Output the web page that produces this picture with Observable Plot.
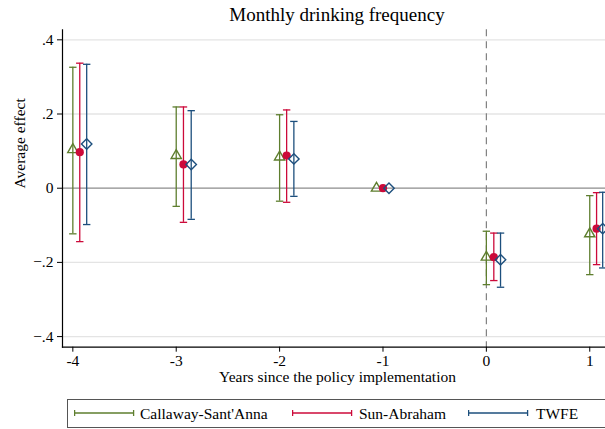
<!DOCTYPE html>
<html><head><meta charset="utf-8">
<script src="https://cdn.jsdelivr.net/npm/d3@7"></script>
<script src="https://cdn.jsdelivr.net/npm/@observablehq/plot@0.6"></script>
<style>
html,body{margin:0;padding:0;background:#fff;overflow:hidden;width:605px;height:429px}
#wrap{position:relative;width:612px;height:429px;font-family:"Liberation Serif","Times New Roman",serif;color:#000}
#title{position:absolute;left:62px;width:550px;top:0;height:29px;text-align:center;font-size:19px;line-height:29px}
#chart{position:absolute;left:0;top:29px}
#chart svg, #chart svg text{font-family:"Liberation Serif","Times New Roman",serif !important}
#legend{position:absolute;left:67px;top:399px;width:545px;height:29px;border:1.3px solid #555;box-sizing:border-box;background:#fff}
.item{position:absolute;top:0;height:27px;line-height:27px;font-size:15.5px;white-space:nowrap;font-family:"Liberation Serif","Times New Roman",serif}
.item svg{position:absolute;top:8px}
</style>
</head><body>
<div id="wrap">
  <div id="title">Monthly drinking frequency</div>
  <div id="chart"></div>
  <div id="legend"></div>
</div>
<script>
// ---- data ----
const title = "Monthly drinking frequency";
const xLabel = "Years since the policy implementation";
const yLabel = "Average effect";
const periods = [-4, -3, -2, -1, 0, 1];
const yTicks = [-0.4, -0.2, 0, 0.2, 0.4];
const seriesNames = ["Callaway-Sant'Anna", "Sun-Abraham", "TWFE"];
const seriesColors = ["#5e7e2e", "#cc0a3a", "#1d4f7d"];

const csEst = [0.104, 0.088, 0.084, 0, -0.186, -0.123];
const csLo  = [-0.123, -0.049, -0.035, null, -0.260, -0.233];
const csHi  = [0.326, 0.219, 0.198, null, -0.116, -0.020];
const csShift = [0, 0, 0, -0.063, 0, 0];

const saEst = [0.097, 0.064, 0.088, 0, -0.186, -0.109];
const saLo  = [-0.144, -0.092, -0.038, null, -0.249, -0.206];
const saHi  = [0.337, 0.219, 0.211, null, -0.121, -0.012];
const saShift = [0.067, 0.07, 0.068, 0, 0.072, 0.066];

const twEst = [0.119, 0.064, 0.079, 0, -0.193, -0.109];
const twLo  = [-0.098, -0.084, -0.022, null, -0.267, -0.215];
const twHi  = [0.334, 0.209, 0.180, null, -0.121, -0.011];
const twShift = [0.134, 0.145, 0.138, 0.058, 0.137, 0.125];

// ---- build ----
const font = '"Liberation Serif","Times New Roman",serif';
function rows(est, lo, hi, shift, s) {
  return periods.map((p, i) => ({t: p + shift[i], est: est[i], lo: lo[i], hi: hi[i], s}));
}
const series = [
  rows(csEst, csLo, csHi, csShift, 0),
  rows(saEst, saLo, saHi, saShift, 1),
  rows(twEst, twLo, twHi, twShift, 2)
];
const capSymbol = {draw(ctx, size) { const w = Math.sqrt(size / Math.PI); ctx.moveTo(-w, 0); ctx.lineTo(w, 0); }};
const markerSpec = [
  {symbol: "triangle", r: 3.8, fill: "none", stroke: seriesColors[0]},
  {symbol: "circle", r: 4.1, fill: seriesColors[1], stroke: "none"},
  {symbol: "diamond2", r: 4.7, fill: "none", stroke: seriesColors[2]}
];
const yFmt = d => d === 0 ? "0" : d3.format(".1f")(d).replace("0.", ".");

const marks = [
  Plot.gridY(yTicks.filter(d => d !== 0), {stroke: "#e4e4e4", strokeOpacity: 1, strokeWidth: 1.3}),
  Plot.ruleY([0], {stroke: "#8c8c8c", strokeWidth: 1.3}),
  Plot.ruleX([0], {stroke: "#808080", strokeWidth: 1.2, strokeDasharray: "7,5"}),
  Plot.axisY(yTicks, {tickSize: 5, tickPadding: 4, tickFormat: yFmt, fontSize: 15.5, fontFamily: font, label: null, stroke: "#000"}),
  Plot.axisX(periods, {tickSize: 5, tickPadding: 3, tickFormat: d => String(d), fontSize: 15.5, fontFamily: font, label: null, stroke: "#000"}),
  Plot.frame({anchor: "left", stroke: "#000", strokeWidth: 1.2}),
  Plot.frame({anchor: "bottom", stroke: "#000", strokeWidth: 1.2}),
  Plot.text([xLabel], {frameAnchor: "bottom", dy: 35, fontSize: 15.5, fontFamily: font}),
  Plot.text([yLabel], {frameAnchor: "left", dx: -42, rotate: -90, fontSize: 15.5, fontFamily: font})
];
series.forEach((data, k) => {
  const ci = data.filter(d => d.lo != null);
  marks.push(Plot.ruleX(ci, {x: "t", y1: "lo", y2: "hi", stroke: seriesColors[k], strokeWidth: 1.3}));
  marks.push(Plot.dot(ci, {x: "t", y: "lo", symbol: capSymbol, r: 3.7, stroke: seriesColors[k], strokeWidth: 1.3}));
  marks.push(Plot.dot(ci, {x: "t", y: "hi", symbol: capSymbol, r: 3.7, stroke: seriesColors[k], strokeWidth: 1.3}));
});
series.forEach((data, k) => {
  marks.push(Plot.dot(data, {x: "t", y: "est", ...markerSpec[k], strokeWidth: 1.4}));
});

const chart = Plot.plot({
  width: 612, height: 370,
  marginLeft: 62, marginRight: 0, marginTop: 0.3, marginBottom: 52.3,
  x: {domain: [-4.1, 1.22]},
  y: {domain: [-0.4286, 0.427]},
  style: {fontFamily: font, fontSize: "15.5px", color: "#000", background: "transparent", overflow: "visible"},
  marks
});
document.getElementById("chart").appendChild(chart);
document.getElementById("title").textContent = title;

// legend
const legendPos = [{line: 6, text: 72}, {line: 224, text: 291}, {line: 400, text: 468}];
const legend = document.getElementById("legend");
seriesNames.forEach((name, k) => {
  const c = seriesColors[k];
  const s = document.createElement("div");
  s.className = "item";
  s.style.left = legendPos[k].line + "px";
  s.innerHTML = `<svg width="61" height="10"><line x1="0.6" x2="59.6" y1="5" y2="5" stroke="${c}" stroke-width="1.3"/><line x1="0.6" x2="0.6" y1="2" y2="8" stroke="${c}" stroke-width="1.3"/><line x1="59.6" x2="59.6" y1="2" y2="8" stroke="${c}" stroke-width="1.3"/></svg>`;
  legend.appendChild(s);
  const t = document.createElement("div");
  t.className = "item";
  t.style.left = legendPos[k].text + "px";
  t.textContent = name;
  legend.appendChild(t);
});
</script>
</body></html>
